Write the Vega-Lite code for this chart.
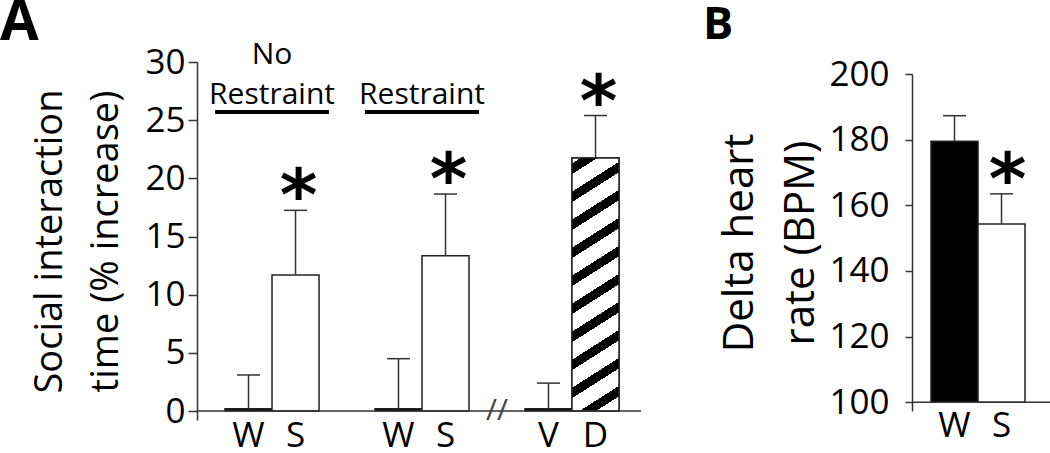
{
  "$schema": "https://vega.github.io/schema/vega-lite/v6.json",
  "padding": {"top": -5, "left": 0, "right": 0, "bottom": 0},
  "background": "white",
  "bounds": "flush",
  "spacing": 271,
  "datasets": {
    "social": [
      {"group": "NR", "arm": "control", "label": "W", "mean": 0.2, "upper": 3.1, "sig": false},
      {"group": "NR", "arm": "treatment", "label": "S", "mean": 11.7, "upper": 17.25, "sig": true},
      {"group": "R", "arm": "control", "label": "W", "mean": 0.2, "upper": 4.5, "sig": false},
      {"group": "R", "arm": "treatment", "label": "S", "mean": 13.35, "upper": 18.65, "sig": true},
      {"group": "VD", "arm": "control", "label": "V", "mean": 0.2, "upper": 2.4, "sig": false},
      {"group": "VD", "arm": "treatment", "label": "D", "mean": 21.75, "upper": 25.4, "sig": true}
    ],
    "headings": [
      {"group": "NR", "top": "No", "main": "Restraint"},
      {"group": "R", "top": "", "main": "Restraint"}
    ],
    "heart": [
      {"label": "W", "arm": "control", "mean": 179.5, "upper": 187.3, "sig": false},
      {"label": "S", "arm": "treatment", "mean": 154.3, "upper": 163.5, "sig": true}
    ]
  },
  "hconcat": [
    {
      "width": 444,
      "height": 358,
      "title": {"text": "A", "anchor": "start", "frame": "group", "font": "Open Sans", "fontSize": 56, "fontWeight": "bold", "color": "black", "dx": -197, "offset": -12},
      "data": {"name": "social"},
      "layer": [
        {
          "mark": {"type": "bar", "stroke": "#222", "strokeWidth": 1.5},
          "encoding": {
            "x": {"field": "group", "type": "nominal", "scale": {"domain": ["NR", "R", "VD"], "paddingInner": 0.373, "paddingOuter": 0.1667, "align": 0.56}, "axis": null},
            "xOffset": {"field": "arm", "type": "nominal", "scale": {"domain": ["control", "treatment"], "paddingInner": 0, "paddingOuter": 0}},
            "y": {"field": "mean", "type": "quantitative", "scale": {"domain": [-0.77, 30], "nice": false, "zero": false},
                  "axis": {"values": [0, 5, 10, 15, 20, 25, 30], "tickSize": 9, "labelPadding": 3, "title": ["Social interaction", "time (% increase)"], "titleFontSize": 38, "titleLineHeight": 56, "titlePadding": 19, "labelOverlap": false, "labelFlush": false}},
            "y2": {"datum": 0},
            "fill": {"condition": {"test": "datum.arm === 'control'", "value": "black"}, "value": "white"}
          }
        },
        {
          "transform": [{"filter": "datum.label === 'D'"}],
          "mark": {"type": "bar", "stroke": "#222", "strokeWidth": 1.5,
            "fill": {"gradient": "linear", "x1": 0, "y1": 0, "x2": 0.1304, "y2": 1.1028,
              "stops": [
                {"offset": 0, "color": "white"},
                {"offset": 0.02, "color": "white"}, {"offset": 0.02, "color": "black"}, {"offset": 0.057, "color": "black"}, {"offset": 0.057, "color": "white"},
                {"offset": 0.119, "color": "white"}, {"offset": 0.119, "color": "black"}, {"offset": 0.156, "color": "black"}, {"offset": 0.156, "color": "white"},
                {"offset": 0.218, "color": "white"}, {"offset": 0.218, "color": "black"}, {"offset": 0.255, "color": "black"}, {"offset": 0.255, "color": "white"},
                {"offset": 0.317, "color": "white"}, {"offset": 0.317, "color": "black"}, {"offset": 0.354, "color": "black"}, {"offset": 0.354, "color": "white"},
                {"offset": 0.416, "color": "white"}, {"offset": 0.416, "color": "black"}, {"offset": 0.453, "color": "black"}, {"offset": 0.453, "color": "white"},
                {"offset": 0.515, "color": "white"}, {"offset": 0.515, "color": "black"}, {"offset": 0.552, "color": "black"}, {"offset": 0.552, "color": "white"},
                {"offset": 0.614, "color": "white"}, {"offset": 0.614, "color": "black"}, {"offset": 0.651, "color": "black"}, {"offset": 0.651, "color": "white"},
                {"offset": 0.713, "color": "white"}, {"offset": 0.713, "color": "black"}, {"offset": 0.75, "color": "black"}, {"offset": 0.75, "color": "white"},
                {"offset": 0.812, "color": "white"}, {"offset": 0.812, "color": "black"}, {"offset": 0.849, "color": "black"}, {"offset": 0.849, "color": "white"},
                {"offset": 0.911, "color": "white"}, {"offset": 0.911, "color": "black"}, {"offset": 0.948, "color": "black"}, {"offset": 0.948, "color": "white"},
                {"offset": 1, "color": "white"}
              ]}},
          "encoding": {
            "x": {"field": "group", "type": "nominal"},
            "xOffset": {"field": "arm", "type": "nominal"},
            "y": {"field": "mean", "type": "quantitative"},
            "y2": {"datum": 0}
          }
        },
        {
          "mark": {"type": "rule", "color": "#333", "strokeWidth": 1.5},
          "encoding": {
            "x": {"field": "group", "type": "nominal"},
            "xOffset": {"field": "arm", "type": "nominal"},
            "y": {"field": "mean", "type": "quantitative"},
            "y2": {"field": "upper"}
          }
        },
        {
          "mark": {"type": "tick", "orient": "horizontal", "size": 23, "thickness": 1.5, "color": "#333", "opacity": 1},
          "encoding": {
            "x": {"field": "group", "type": "nominal"},
            "xOffset": {"field": "arm", "type": "nominal"},
            "y": {"field": "upper", "type": "quantitative"}
          }
        },
        {
          "data": {"values": [{}]},
          "mark": {"type": "rule", "color": "#333", "strokeWidth": 1.5},
          "encoding": {"y": {"datum": 0}}
        },
        {
          "transform": [{"filter": "datum.sig"}],
          "mark": {"type": "text", "text": "*", "font": "DejaVu Sans", "fontWeight": "bold", "fontSize": 72, "color": "black", "baseline": "alphabetic", "dy": 10, "dx": 3},
          "encoding": {
            "x": {"field": "group", "type": "nominal"},
            "xOffset": {"field": "arm", "type": "nominal"},
            "y": {"field": "upper", "type": "quantitative"}
          }
        },
        {
          "mark": {"type": "text", "font": "Open Sans", "fontSize": 35, "color": "black", "baseline": "alphabetic", "dy": 36},
          "encoding": {
            "x": {"field": "group", "type": "nominal"},
            "xOffset": {"field": "arm", "type": "nominal"},
            "y": {"datum": 0},
            "text": {"field": "label"}
          }
        },
        {
          "transform": [{"filter": "datum.label === 'V'"}],
          "mark": {"type": "text", "text": "//", "font": "Open Sans", "fontSize": 30, "color": "#444", "baseline": "middle", "dx": -28},
          "encoding": {
            "x": {"field": "group", "type": "nominal", "bandPosition": 0},
            "y": {"datum": 0}
          }
        },
        {
          "data": {"name": "headings"},
          "mark": {"type": "text", "font": "Open Sans", "fontSize": 30, "color": "black", "baseline": "bottom", "dy": -2},
          "encoding": {
            "x": {"field": "group", "type": "nominal"},
            "y": {"datum": 25.7},
            "text": {"field": "main"}
          }
        },
        {
          "data": {"name": "headings"},
          "mark": {"type": "text", "font": "Open Sans", "fontSize": 30, "color": "black", "baseline": "bottom", "dy": -42},
          "encoding": {
            "x": {"field": "group", "type": "nominal"},
            "y": {"datum": 25.7},
            "text": {"field": "top"}
          }
        },
        {
          "data": {"name": "headings"},
          "mark": {"type": "tick", "orient": "horizontal", "size": 114, "thickness": 4, "color": "black", "opacity": 1},
          "encoding": {
            "x": {"field": "group", "type": "nominal"},
            "y": {"datum": 25.7}
          }
        }
      ]
    },
    {
      "width": 138,
      "height": 358,
      "title": {"text": "B", "anchor": "start", "frame": "group", "font": "Open Sans", "fontSize": 45, "fontWeight": "bold", "color": "black", "dx": -209, "offset": 9},
      "data": {"name": "heart"},
      "layer": [
        {
          "mark": {"type": "bar", "stroke": "#222", "strokeWidth": 1.5},
          "encoding": {
            "x": {"field": "label", "type": "nominal", "scale": {"domain": ["W", "S"], "paddingInner": 0, "paddingOuter": 0.468, "align": 0.432}, "axis": null},
            "y": {"field": "mean", "type": "quantitative", "scale": {"domain": [97.35, 200], "range": [349, 12], "nice": false, "zero": false},
                  "axis": {"values": [100, 120, 140, 160, 180, 200], "tickSize": 7, "labelPadding": 16, "title": ["Delta heart", "rate (BPM)"], "titleFontSize": 42, "titleLineHeight": 61, "titlePadding": 6, "labelOverlap": false, "labelFlush": false}},
            "y2": {"datum": 100},
            "fill": {"condition": {"test": "datum.arm === 'control'", "value": "black"}, "value": "white"}
          }
        },
        {
          "mark": {"type": "rule", "color": "#333", "strokeWidth": 1.5},
          "encoding": {
            "x": {"field": "label", "type": "nominal"},
            "y": {"field": "mean", "type": "quantitative"},
            "y2": {"field": "upper"}
          }
        },
        {
          "mark": {"type": "tick", "orient": "horizontal", "size": 23, "thickness": 1.5, "color": "#333", "opacity": 1},
          "encoding": {
            "x": {"field": "label", "type": "nominal"},
            "y": {"field": "upper", "type": "quantitative"}
          }
        },
        {
          "data": {"values": [{}]},
          "mark": {"type": "rule", "color": "#333", "strokeWidth": 1.5},
          "encoding": {"y": {"datum": 100}}
        },
        {
          "transform": [{"filter": "datum.sig"}],
          "mark": {"type": "text", "text": "*", "font": "DejaVu Sans", "fontWeight": "bold", "fontSize": 72, "color": "black", "baseline": "alphabetic", "dy": 10, "dx": 6},
          "encoding": {
            "x": {"field": "label", "type": "nominal"},
            "y": {"field": "upper", "type": "quantitative"}
          }
        },
        {
          "mark": {"type": "text", "font": "Open Sans", "fontSize": 35, "color": "black", "baseline": "alphabetic", "dy": 35},
          "encoding": {
            "x": {"field": "label", "type": "nominal"},
            "y": {"datum": 100},
            "text": {"field": "label"}
          }
        }
      ]
    }
  ],
  "config": {
    "view": {"stroke": null},
    "axis": {"grid": false, "domainColor": "#333", "domainWidth": 1.5, "tickColor": "#333", "tickWidth": 1.5, "labelFont": "Open Sans", "labelFontSize": 35, "labelColor": "black", "titleFont": "Open Sans", "titleFontWeight": "normal", "titleColor": "black"}
  }
}
